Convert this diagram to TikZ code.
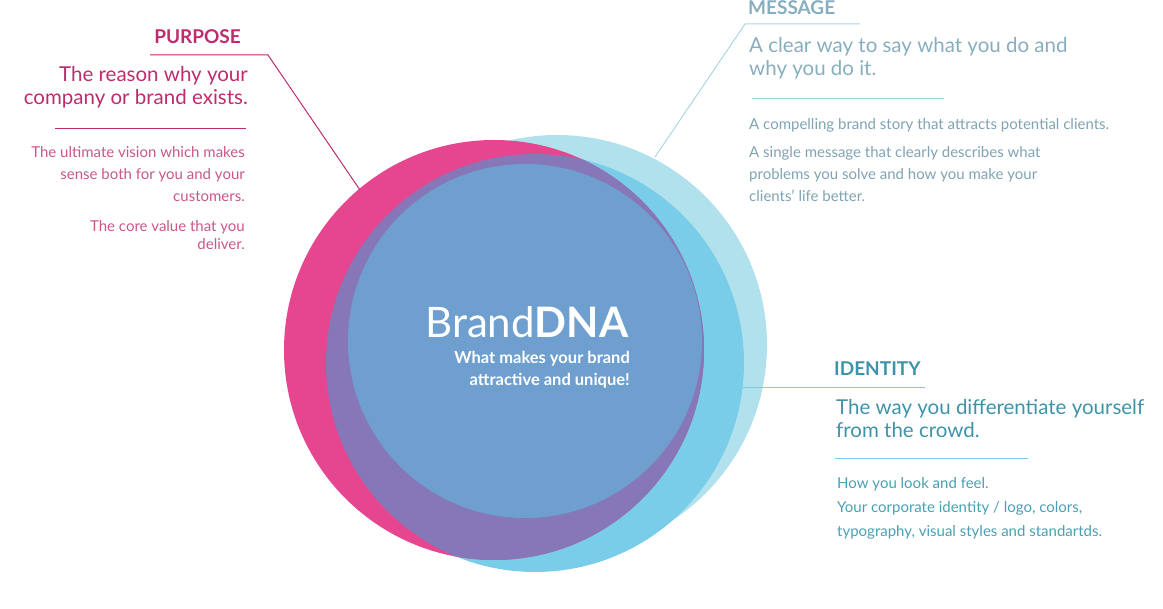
\documentclass[tikz,border=0pt]{standalone}
\usepackage{fontspec}
\setmainfont{Lato}
\definecolor{pinkc}{HTML}{E6458F}
\definecolor{lblue}{HTML}{B2E1EE}
\definecolor{cyanc}{HTML}{79CDE8}
\definecolor{mainb}{HTML}{6F9FCF}
\definecolor{ovl}{HTML}{8677B8}
\definecolor{purp}{HTML}{BE2C6E}
\definecolor{purpl}{HTML}{C9578A}
\definecolor{msg}{HTML}{86AEBF}
\definecolor{msgl}{HTML}{7FA3B3}
\definecolor{idh}{HTML}{3F93A8}
\definecolor{idb}{HTML}{4A9FB4}
\tikzset{
 head/.style={font=\fontsize{19}{22}\selectfont\bfseries},
 big/.style={font=\fontsize{20.5}{23}\selectfont, align=left, inner sep=0pt},
 small/.style={font=\fontsize{15}{22}\selectfont, inner sep=0pt},
 leader/.style={line width=1pt}
}
\begin{document}
\begin{tikzpicture}[x=1pt,y=-1pt]
\useasboundingbox (0,0) rectangle (1163,609);
% circles
\fill[lblue] (557,345) circle (210);
\fill[cyanc] (535,363) circle (209);
\fill[pinkc] (494,350) circle (210);
\begin{scope}
\clip (494,350) circle (210);
\fill[ovl] (535,363) circle (209);
\end{scope}
\fill[mainb] (525,341) circle (177);
\node[font=\fontsize{42}{42}\selectfont, text=white, anchor=base east] (title) at (632,338) {Brand\textbf{DNA}};
\node[font=\fontsize{16.5}{22}\selectfont\bfseries, text=white, align=right, anchor=north east, inner sep=0pt] (sub) at (630,351) {What makes your brand\\attractive and unique!};
% PURPOSE
\node[head, text=purp, anchor=base east, inner sep=0pt] (ph) at (241,44) {PURPOSE};
\coordinate (pu1) at (150,55); \coordinate (pu2) at (268,55); \coordinate (pe) at (360,190);
\draw[leader, purp] (pu1) -- (pu2) -- (pe);
\node[big, align=right, text=purp, anchor=north east] (pb) at (248,66) {The reason why your\\company or brand exists.};
\coordinate (pl1) at (55,129); \coordinate (pl2) at (246,129);
\draw[leader, purp] (pl1) -- (pl2);
\node[small, align=right, text=purpl, anchor=north east] (ps1) at (245,146) {The ultimate vision which makes\\sense both for you and your\\customers.};
\node[small, align=right, text=purpl, anchor=north east, font=\fontsize{15}{18}\selectfont] (ps2) at (245,220) {The core value that you\\deliver.};
% MESSAGE
\node[head, text=msg, anchor=base west, inner sep=0pt] (mh) at (748,15) {MESSAGE};
\coordinate (mu1) at (860,24); \coordinate (mu2) at (745,24); \coordinate (me) at (655,157);
\draw[leader, lblue!80!msg] (mu1) -- (mu2) -- (me);
\node[big, text=msg, anchor=north west] (mb) at (749,37) {A clear way to say what you do and\\why you do it.};
\coordinate (ml1) at (752,99); \coordinate (ml2) at (944,99);
\draw[leader, lblue!80!msg] (ml1) -- (ml2);
\node[small, text=msgl, anchor=north west] (ms1) at (749,118) {A compelling brand story that attracts potential clients.};
\node[small, align=left, text=msgl, anchor=north west] (ms2) at (749,146) {A single message that clearly describes what\\problems you solve and how you make your\\clients' life better.};
% IDENTITY
\node[head, text=idh, anchor=base west, inner sep=0pt] (ih) at (834,376) {IDENTITY};
\coordinate (il1) at (742,388); \coordinate (il2) at (925,388);
\draw[leader, cyanc] (il1) -- (il2);
\node[big, text=idh, anchor=north west] (ib) at (836,399) {The way you differentiate yourself\\from the crowd.};
\coordinate (ill1) at (835,459); \coordinate (ill2) at (1028,459);
\draw[leader, cyanc] (ill1) -- (ill2);
\node[small, align=left, text=idb, anchor=north west, font=\fontsize{15}{24}\selectfont] (is1) at (837,477) {How you look and feel.\\Your corporate identity / logo, colors,\\typography, visual styles and standartds.};
\end{tikzpicture}
\end{document}
